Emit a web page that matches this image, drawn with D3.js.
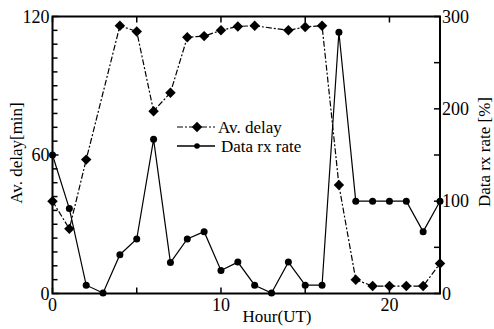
<!DOCTYPE html>
<html><head><meta charset="utf-8">
<script src="https://cdn.jsdelivr.net/npm/d3@7"></script>
<style>body{margin:0;background:#fff}svg{display:block}text{font-family:"Liberation Serif","Times New Roman",serif;fill:#000}</style>
</head><body><svg width="494" height="329"></svg>
<script>
const delayHours = [0,1,2,4,5,6,7,8,9,10,11,12,14,15,16,17,18,19,20,21,22,23];
const delayValues = [40,28,58,116,113.5,79,87,111,111.5,114,115.7,116,114,115.5,116,47,6,3.2,3.2,3.2,3.2,13];
const rxHours = [0,1,2,3,4,5,6,7,8,9,10,11,12,13,14,15,16,17,18,19,20,21,22,23];
const rxValues = [150,92,9,0.5,42,59,167,33.5,59,67,25,34,9,0.5,34,9,9,283,100,100,100,100,67,100];
const xTicks = [0,5,10,15,20];
const xLabels = [0,10,20];
const leftLabels = [0,60,120];
const rightTicks = [0,50,100,150,200,250,300];
const rightLabels = [0,100,200,300];

const svg = d3.select("svg");
const L=52.5, R=440, T=16.5, B=293.5;
const x = d3.scaleLinear().domain([0,23]).range([L,R]);
const yL = d3.scaleLinear().domain([0,120]).range([B,T]);
const yR = d3.scaleLinear().domain([0,300]).range([B,T]);

// ticks
const g = svg.append("g").attr("stroke","#000").attr("stroke-width",1.5);
xTicks.forEach(t=>{
  g.append("line").attr("x1",x(t)).attr("x2",x(t)).attr("y1",B).attr("y2",B-6);
  g.append("line").attr("x1",x(t)).attr("x2",x(t)).attr("y1",T).attr("y2",T+6);
});
d3.range(0,121,6).forEach(t=>{
  const major = t%60===0;
  g.append("line").attr("x1",L).attr("x2",L+(major?6:5)).attr("y1",yL(t)).attr("y2",yL(t));
});
rightTicks.forEach(t=>{
  g.append("line").attr("x1",R).attr("x2",R-6).attr("y1",yR(t)).attr("y2",yR(t));
});
svg.append("rect").attr("x",L).attr("y",T).attr("width",R-L).attr("height",B-T)
  .attr("fill","none").attr("stroke","#000").attr("stroke-width",2);

// labels
svg.selectAll(".xl").data(xLabels).enter().append("text")
  .attr("x",d=>x(d)).attr("y",B+17).attr("text-anchor","middle").attr("font-size",18).text(d=>d);
svg.selectAll(".yl").data(leftLabels).enter().append("text")
  .attr("x",L-3).attr("y",d=>yL(d)+6).attr("text-anchor","end").attr("font-size",18).text(d=>d);
svg.selectAll(".yr").data(rightLabels).enter().append("text")
  .attr("x",R+2).attr("y",d=>yR(d)+6).attr("text-anchor","start").attr("font-size",18).text(d=>d);

svg.append("text").attr("x",277).attr("y",322).attr("text-anchor","middle").attr("font-size",17).text("Hour(UT)");
svg.append("text").attr("transform","translate(22,153) rotate(-90)").attr("text-anchor","middle").attr("font-size",17).text("Av. delay[min]");
svg.append("text").attr("transform","translate(490,152) rotate(-90)").attr("text-anchor","middle").attr("font-size",17).text("Data rx rate [%]");

// series
const delayData = delayHours.map((h,i)=>[h,delayValues[i]]);
const rxData = rxHours.map((h,i)=>[h,rxValues[i]]);
svg.append("path").datum(rxData).attr("fill","none").attr("stroke","#000").attr("stroke-width",1.2)
  .attr("d",d3.line().x(d=>x(d[0])).y(d=>yR(d[1])));
svg.append("path").datum(delayData).attr("fill","none").attr("stroke","#000").attr("stroke-width",1.2)
  .attr("stroke-dasharray","6,2,2,2")
  .attr("d",d3.line().x(d=>x(d[0])).y(d=>yL(d[1])));
const diamond = d3.symbol().type(d3.symbolDiamond2).size(70);
svg.selectAll(".dm").data(delayData).enter().append("path")
  .attr("transform",d=>`translate(${x(d[0])},${yL(d[1])})`).attr("d",diamond).attr("fill","#000");
svg.selectAll(".cm").data(rxData).enter().append("circle")
  .attr("cx",d=>x(d[0])).attr("cy",d=>yR(d[1])).attr("r",3.5).attr("fill","#000");

// legend
const lg = svg.append("g");
const r1 = 127, r2 = 146;
lg.append("line").attr("x1",177).attr("x2",215).attr("y1",r1).attr("y2",r1).attr("stroke","#000").attr("stroke-width",1.2).attr("stroke-dasharray","6,2,2,2");
lg.append("path").attr("transform",`translate(197,${r1})`).attr("d",diamond).attr("fill","#000");
lg.append("text").attr("x",218).attr("y",r1+6).attr("font-size",17).text("Av. delay");
lg.append("line").attr("x1",177).attr("x2",215).attr("y1",r2).attr("y2",r2).attr("stroke","#000").attr("stroke-width",1.5);
lg.append("circle").attr("cx",197).attr("cy",r2).attr("r",2.8).attr("fill","#000");
lg.append("text").attr("x",221).attr("y",r2+6).attr("font-size",17).text("Data rx rate");
</script></body></html>
